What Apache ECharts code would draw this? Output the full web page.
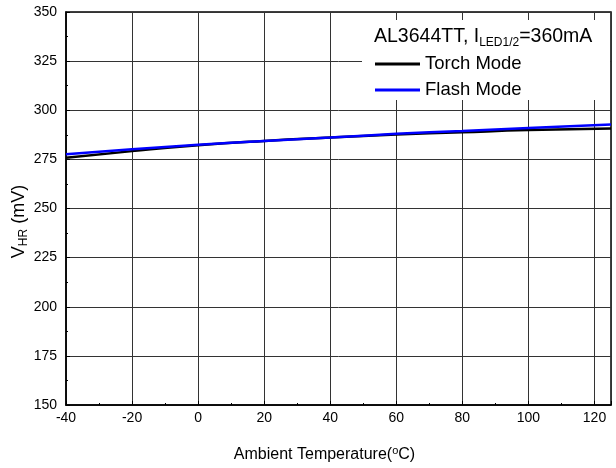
<!DOCTYPE html>
<html><head><meta charset="utf-8">
<script src="https://cdn.jsdelivr.net/npm/echarts@6/dist/echarts.min.js"></script>
<style>html,body{margin:0;padding:0;background:#fff}#c{width:616px;height:468px}</style>
</head><body><div id="c"></div>
<script>
const temps = [-40, -20, 0, 20, 40, 60, 80, 100, 125];
const torch = [275.8, 279.2, 282.2, 284.4, 286.1, 287.6, 288.8, 289.9, 290.7];
const flash = [277.6, 280.2, 282.4, 284.4, 286.1, 288.0, 289.5, 291.0, 292.8];
const seriesNames = ['Torch Mode', 'Flash Mode'];
const legendTitle = '{a|AL3644TT, I}{s|LED1/2}{a|=360mA}';

const F = '"Liberation Sans", Arial, sans-serif';
const chart = echarts.init(document.getElementById('c'));
chart.setOption({
  animation: false,
  grid: {left: 66, right: 5, top: 12, bottom: 63, outerBoundsMode: 'none', containLabel: false,
         show: true, borderColor: '#000', borderWidth: 1.5, backgroundColor: 'transparent'},
  xAxis: {
    type: 'value', min: -40, max: 125, interval: 20,
    axisLine: {show: true, onZero: false, lineStyle: {color: '#000', width: 1.5}},
    axisTick: {show: true, inside: true, length: 4, lineStyle: {color: '#000'}},
    minorTick: {show: true, splitNumber: 2, length: 2, lineStyle: {color: '#000'}},
    splitLine: {show: true, lineStyle: {color: '#333', width: 1}},
    axisLabel: {color: '#000', fontSize: 14, fontFamily: F, margin: 6, showMaxLabel: false},
    name: '{a|Ambient Temperature(}{p|o}{a|C)}', nameLocation: 'middle', nameGap: 40, nameMoveOverlap: false,
    nameTextStyle: {padding: [0, 28, 0, 0], rich: {
      a: {fontSize: 16, fontFamily: F, color: '#000', lineHeight: 20},
      p: {fontSize: 11, fontFamily: F, color: '#000', lineHeight: 20, verticalAlign: 'top', padding: [0, 0, 7, 0]}
    }}
  },
  yAxis: {
    type: 'value', min: 150, max: 350, interval: 25,
    axisLine: {show: true, onZero: false, lineStyle: {color: '#000', width: 1.5}},
    axisTick: {show: true, inside: true, length: 4, lineStyle: {color: '#000'}},
    minorTick: {show: true, splitNumber: 2, length: 2, lineStyle: {color: '#000'}},
    splitLine: {show: true, lineStyle: {color: '#333', width: 1}},
    axisLabel: {color: '#000', fontSize: 14, fontFamily: F, margin: 9},
    name: '{a|V}{s|HR}{a| (mV)}', nameLocation: 'middle', nameGap: 36, nameRotate: 90, nameMoveOverlap: false,
    nameTextStyle: {padding: [0, 26, 0, 0], rich: {
      a: {fontSize: 18, fontFamily: F, color: '#000', lineHeight: 22},
      s: {fontSize: 12, fontFamily: F, color: '#000', lineHeight: 22, verticalAlign: 'bottom', padding: [7, 0, 0, 0]}
    }}
  },
  legend: {
    orient: 'vertical', left: 375, top: 54, padding: 0, itemGap: 6, itemWidth: 45, itemHeight: 3,
    icon: 'rect', z: 20,
    textStyle: {fontSize: 18.5, fontFamily: F, color: '#000', lineHeight: 20, padding: [0, 0, 0, 0]},
    data: seriesNames
  },
  graphic: [
    {type: 'rect', z: 10, shape: {x: 362, y: 20, width: 248, height: 80}, style: {fill: '#fff'}},
    {type: 'text', z: 15, left: 374, top: 27, style: {
      text: legendTitle,
      rich: {
        a: {fontSize: 19.5, fontFamily: F, fill: '#000', lineHeight: 24},
        s: {fontSize: 12, fontFamily: F, fill: '#000', lineHeight: 24, verticalAlign: 'bottom', padding: [9, 0, 0, 0]}
      }
    }}
  ],
  series: [
    {name: seriesNames[0], type: 'line', smooth: true, symbol: 'none', z: 3,
     color: '#000', lineStyle: {width: 2.5, color: '#000'},
     data: temps.map((t, i) => [t, torch[i]])},
    {name: seriesNames[1], type: 'line', smooth: true, symbol: 'none', z: 4,
     color: '#0000ff', lineStyle: {width: 2.5, color: '#0000ff'},
     data: temps.map((t, i) => [t, flash[i]])}
  ]
});
</script></body></html>
